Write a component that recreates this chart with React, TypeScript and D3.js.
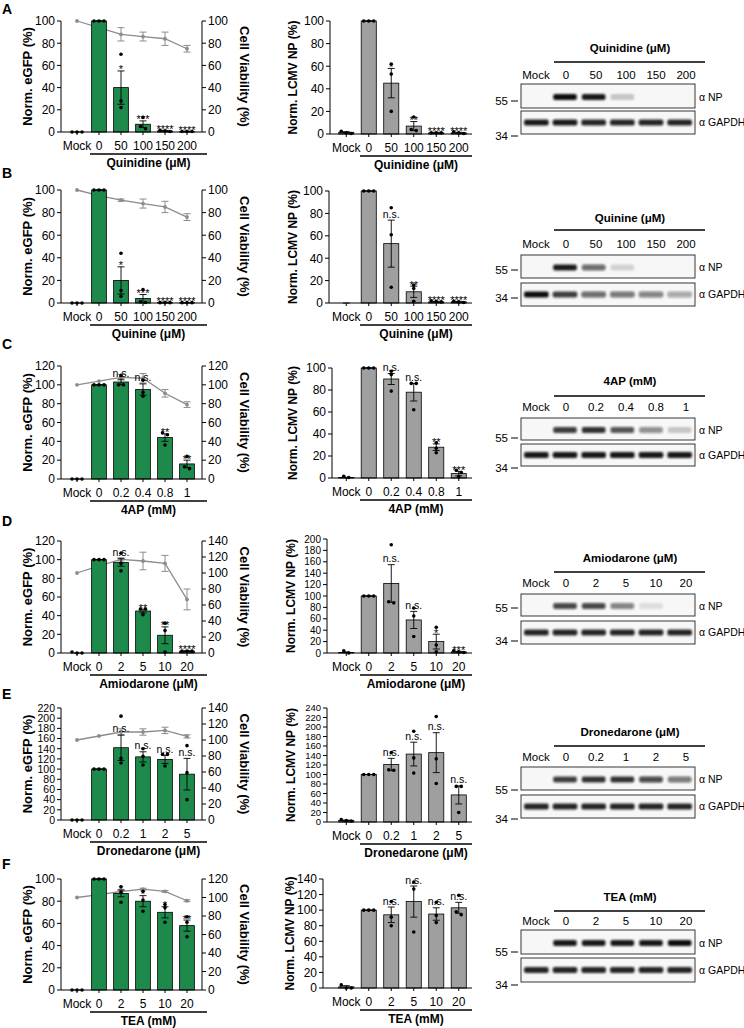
import React from 'react';
import * as d3 from 'd3';

const FONT = "'Liberation Sans', Arimo, 'DejaVu Sans', sans-serif";
const GREEN = '#1d8a4b';
const GREY_BAR = '#9f9f9f';
const VIAB = '#8c8c8c';

// ---------- Row A: Quinidine ----------
const catsA = ['Mock', '0', '50', '100', '150', '200'];
const eGfpMeanA = [0, 100, 40, 7, 1, 0.5];
const eGfpSemA = [0, 0, 15, 3, 0.5, 0.3];
const eGfpPtsA = [[0, 0, 0], [100, 100, 100], [70, 28, 22], [13, 5, 3], [1, 1.5, 0.5], [0.5, 0.5, 0.5]];
const eGfpSigA = ['', '', '*', '***', '****', '****'];
const viabMeanA = [100, 94, 88, 86, 84, 75];
const viabSemA = [0, 0, 6, 4, 6, 3];
const npMeanA = [1.5, 100, 45, 7, 1, 1];
const npSemA = [0.5, 0, 13, 4, 0.5, 0.5];
const npPtsA = [[0.5, 2.5, 1], [100, 100, 100], [62, 53, 20], [15, 3, 4], [1, 1, 1], [1, 2, 0.5]];
const npSigA = ['', '', '*', '**', '****', '****'];
const blotNpA = [0, 1, 0.95, 0.2, 0, 0];
const blotGapdhA = [0.95, 0.95, 0.9, 0.9, 0.9, 0.9];

// ---------- Row B: Quinine ----------
const catsB = ['Mock', '0', '50', '100', '150', '200'];
const eGfpMeanB = [0, 100, 20, 4, 0.5, 0.3];
const eGfpSemB = [0, 0, 12, 3.5, 0.3, 0.2];
const eGfpPtsB = [[0, 0, 0], [100, 100, 100], [44, 11, 6], [12, 1, 0.5], [0.3, 0.3, 0.3], [0.3, 0.3, 0.3]];
const eGfpSigB = ['', '', '*', '***', '****', '****'];
const viabMeanB = [100, 95, 91, 88, 85, 76];
const viabSemB = [0, 0, 1, 4, 5, 3];
const npMeanB = [0, 100, 53, 10, 1, 1];
const npSemB = [0, 0, 21, 5, 0.5, 0.5];
const npPtsB = [[], [100, 100, 100], [85, 61, 14], [16, 13, 1.5], [1, 1.5, 2], [0.5, 1.5, 1]];
const npSigB = ['', '', 'n.s.', '**', '****', '****'];
const blotNpB = [0, 0.95, 0.6, 0.15, 0, 0];
const blotGapdhB = [1, 0.8, 0.6, 0.55, 0.5, 0.35];

// ---------- Row C: 4AP ----------
const catsC = ['Mock', '0', '0.2', '0.4', '0.8', '1'];
const eGfpMeanC = [0, 100, 103, 95, 44, 16];
const eGfpSemC = [0, 0, 3, 6, 4, 4];
const eGfpPtsC = [[0, 0, 0], [100, 100, 100], [110, 100, 100], [105, 92, 88], [49, 47, 36], [24, 13, 11]];
const eGfpSigC = ['', '', 'n.s.', 'n.s.', '**', '**'];
const viabMeanC = [100, 104, 108, 107, 91, 79];
const viabSemC = [0, 0, 3, 5, 4, 3];
const npMeanC = [0.5, 100, 90, 78, 28, 4];
const npSemC = [0, 0, 5, 8, 3, 2];
const npPtsC = [[0.5, 1.5], [100, 100, 100], [97, 94, 79], [86, 86, 62], [32, 27, 23], [7, 5, 1]];
const npSigC = ['', '', 'n.s.', 'n.s.', '**', '***'];
const blotNpC = [0, 0.8, 0.85, 0.7, 0.45, 0.2];
const blotGapdhC = [0.95, 0.95, 0.95, 0.95, 0.95, 0.95];

// ---------- Row D: Amiodarone ----------
const catsD = ['Mock', '0', '2', '5', '10', '20'];
const eGfpMeanD = [0, 100, 97, 45, 19, 2];
const eGfpSemD = [0, 0, 4, 2, 9, 0.5];
const eGfpPtsD = [[0, 1, 0], [100, 100, 100], [107, 96, 88], [47, 47, 41], [32, 24, 1], [2, 2, 2]];
const eGfpSigD = ['', '', 'n.s.', '**', '**', '****'];
const viabMeanD = [100, 109, 117, 115, 112, 67];
const viabSemD = [0, 0, 2, 11, 10, 13];
const npMeanD = [1, 100, 122, 58, 20, 2];
const npSemD = [1, 0, 33, 15, 13, 1];
const npPtsD = [[0, 4], [100, 100, 100], [190, 88, 90], [79, 65, 29], [45, 14, 2], [1, 2, 4]];
const npSigD = ['', '', 'n.s.', 'n.s.', '*', '***'];
const blotNpD = [0, 0.75, 0.75, 0.5, 0.1, 0];
const blotGapdhD = [0.9, 0.9, 0.9, 0.9, 0.9, 0.9];

// ---------- Row E: Dronedarone ----------
const catsE = ['Mock', '0', '0.2', '1', '2', '5'];
const eGfpMeanE = [0, 100, 142, 124, 119, 90];
const eGfpSemE = [0, 0, 25, 10, 8, 31];
const eGfpPtsE = [[0, 0, 0], [100, 100, 100], [204, 121, 112], [140, 125, 108], [129, 129, 106], [146, 93, 40]];
const eGfpSigE = ['', '', 'n.s.', 'n.s.', 'n.s.', 'n.s.'];
const viabMeanE = [100, 105, 110, 110, 112, 104.5];
const viabSemE = [0, 0, 4, 4, 4, 2];
const npMeanE = [3, 100, 121, 143, 146, 57];
const npSemE = [1, 0, 13, 25, 42, 19];
const npPtsE = [[2, 3, 5], [100, 100, 100], [146, 110, 109], [191, 135, 103], [222, 133, 81], [75, 75, 20]];
const npSigE = ['', '', 'n.s.', 'n.s.', 'n.s.', 'n.s.'];
const blotNpE = [0, 0.8, 0.85, 0.85, 0.75, 0.55];
const blotGapdhE = [0.9, 0.9, 0.9, 0.9, 0.9, 0.9];

// ---------- Row F: TEA ----------
const catsF = ['Mock', '0', '2', '5', '10', '20'];
const eGfpMeanF = [0, 100, 87, 80, 70, 58];
const eGfpSemF = [0, 0, 3, 5, 5, 5];
const eGfpPtsF = [[0, 0, 0], [100, 100, 100], [93, 88, 79], [89, 81, 71], [77, 74, 61], [66, 61, 48]];
const eGfpSigF = ['', '', '*', '*', '*', '**'];
const viabMeanF = [100, 103, 106.5, 109, 106.6, 96.5];
const viabSemF = [0, 0, 2, 1, 1, 1];
const npMeanF = [1.5, 100, 94, 111, 95, 103];
const npSemF = [1.5, 0, 10, 20, 8, 7];
const npPtsF = [[4, 0, 0], [100, 100, 100], [111, 91, 80], [136, 127, 72], [110, 93, 84], [119, 98, 94]];
const npSigF = ['', '', 'n.s.', 'n.s.', 'n.s.', 'n.s.'];
const blotNpF = [0, 0.95, 0.95, 0.95, 0.95, 1];
const blotGapdhF = [0.9, 0.9, 0.9, 0.9, 0.9, 0.9];

const groupLabels = ['Quinidine (μM)', 'Quinine (μM)', '4AP (mM)', 'Amiodarone (μM)', 'Dronedarone (μM)', 'TEA (mM)'];
const letters = ['A', 'B', 'C', 'D', 'E', 'F'];

function spreadOffsets(vals: number[], ys: (v: number) => number, gap = 5) {
  const idx = vals.map((_, i) => i).sort((a, b) => ys(vals[a]) - ys(vals[b]));
  const off = new Array(vals.length).fill(0);
  let cluster: number[] = [];
  const flush = () => {
    const n = cluster.length;
    cluster.forEach((id, k) => { off[id] = (k - (n - 1) / 2) * gap; });
    cluster = [];
  };
  let last = -Infinity;
  idx.forEach((id) => {
    const py = ys(vals[id]);
    if (cluster.length && py - last > 3.2) flush();
    cluster.push(id);
    last = py;
  });
  flush();
  return off;
}

function BarPanel(p: any) {
  const { cats, mean, sem, pts, sig, fill, xRange, axisX, rightX, yTop, yZero, yMax, yStep, tickFont, yTitle, yTitleX, group, ul, viab } = p;
  const y = d3.scaleLinear().domain([0, yMax]).range([yZero, yTop]);
  const x = d3.scaleBand<string>().domain(cats).range(xRange).paddingInner(0.33).paddingOuter(0.165);
  const bw = x.bandwidth();
  const cx = (i: number) => (x(cats[i]) as number) + bw / 2;
  const yt = d3.range(0, yMax + 1e-6, yStep);
  const midY = (yTop + yZero) / 2;

  let viabEls: any = null;
  if (viab) {
    const yv = d3.scaleLinear().domain([0, viab.max]).range([yZero, yTop]);
    const line = d3.line<number>().x((_, i) => cx(i)).y((v) => yv(v));
    const vt = d3.range(0, viab.max + 1e-6, viab.step);
    viabEls = (
      <g>
        <line x1={rightX} x2={rightX} y1={yZero} y2={yTop} stroke="#000" strokeWidth={1} />
        {vt.map((t: number) => (
          <g key={t}>
            <line x1={rightX} x2={rightX + 4} y1={yv(t)} y2={yv(t)} stroke="#000" strokeWidth={1} />
            <text x={rightX + 6} y={yv(t)} dy="0.36em" fontSize={viab.font}>{t}</text>
          </g>
        ))}
        <text transform={`translate(${viab.titleX},${midY}) rotate(90)`} textAnchor="middle" dominantBaseline="central" fontSize={13} fontWeight="bold">Cell Viability (%)</text>
        <path d={line(viab.mean) as string} fill="none" stroke={VIAB} strokeWidth={1.3} />
        {viab.mean.map((v: number, i: number) => {
          const s = viab.sem[i];
          return (
            <g key={i}>
              {s > 0 && (
                <g stroke={VIAB} strokeWidth={1}>
                  <line x1={cx(i)} x2={cx(i)} y1={yv(v - s)} y2={yv(v + s)} />
                  <line x1={cx(i) - 3.5} x2={cx(i) + 3.5} y1={yv(v - s)} y2={yv(v - s)} />
                  <line x1={cx(i) - 3.5} x2={cx(i) + 3.5} y1={yv(v + s)} y2={yv(v + s)} />
                </g>
              )}
              <circle cx={cx(i)} cy={yv(v)} r={1.9} fill={VIAB} />
            </g>
          );
        })}
      </g>
    );
  }

  return (
    <g>
      {viabEls}
      {mean.map((m: number, i: number) => (
        <rect key={'b' + i} x={x(cats[i])} y={y(m)} width={bw} height={Math.max(0, yZero - y(m))} fill={fill} stroke="#000" strokeWidth={0.8} />
      ))}
      <line x1={axisX} x2={axisX} y1={yZero} y2={yTop} stroke="#000" strokeWidth={1} />
      {yt.map((t: number) => (
        <g key={'t' + t}>
          <line x1={axisX - 4} x2={axisX} y1={y(t)} y2={y(t)} stroke="#000" strokeWidth={1} />
          <text x={axisX - 6} y={y(t)} dy="0.36em" textAnchor="end" fontSize={tickFont}>{t}</text>
        </g>
      ))}
      <line x1={axisX} x2={rightX} y1={yZero} y2={yZero} stroke="#000" strokeWidth={1} />
      {cats.map((c: string, i: number) => (
        <g key={'x' + i}>
          <line x1={cx(i)} x2={cx(i)} y1={yZero} y2={yZero + 3} stroke="#000" strokeWidth={1} />
          <text x={cx(i)} y={yZero + 18} textAnchor="middle" fontSize={12}>{c}</text>
        </g>
      ))}
      <text transform={`translate(${yTitleX},${midY}) rotate(-90)`} textAnchor="middle" dominantBaseline="central" fontSize={p.titleFont} fontWeight="bold">{yTitle}</text>
      {mean.map((m: number, i: number) => {
        const s = sem[i];
        const c = cx(i);
        const offs = spreadOffsets(pts[i], y);
        const top = y(m + s);
        const label = sig[i];
        const isStar = label.indexOf('*') >= 0;
        return (
          <g key={'e' + i}>
            <g stroke="#000" strokeWidth={0.9}>
              <line x1={c} x2={c} y1={y(Math.max(0, m - s))} y2={y(m + s)} />
              <line x1={c - 3.5} x2={c + 3.5} y1={y(m + s)} y2={y(m + s)} />
              {m - s > 0 && <line x1={c - 3.5} x2={c + 3.5} y1={y(m - s)} y2={y(m - s)} />}
            </g>
            {pts[i].map((v: number, k: number) => (
              <circle key={k} cx={c + offs[k]} cy={y(v)} r={1.8} fill="#000" />
            ))}
            {label && (
              <text x={c} y={isStar ? top + 2.5 : top - 2.5} textAnchor="middle" fontSize={isStar ? 11 : 10.5} fill="#000">{label}</text>
            )}
          </g>
        );
      })}
      <line x1={ul[0]} x2={ul[1]} y1={yZero + 22} y2={yZero + 22} stroke="#000" strokeWidth={1.4} />
      <text x={(ul[0] + ul[1]) / 2} y={yZero + 35} textAnchor="middle" fontSize={12} fontWeight="bold">{group}</text>
    </g>
  );
}

function Blot(p: any) {
  const { lay, cats, title, np, gapdh } = p;
  const boxX0 = 521, boxX1 = 695;
  const lx = d3.scaleBand<string>().domain(cats).range([521, 701]);
  const bx = d3.scaleBand<string>().domain(cats).range([boxX0 + 1, boxX1 - 1]);
  const npC = (lay.np[0] + lay.np[1]) / 2 + 1;
  const gpC = (lay.gp[0] + lay.gp[1]) / 2;
  return (
    <g>
      <text x={630} y={lay.titleY} textAnchor="middle" fontSize={11.5} fontWeight="bold">{title}</text>
      <line x1={554} x2={705} y1={lay.lineY} y2={lay.lineY} stroke="#000" strokeWidth={1.4} />
      {cats.map((c: string) => (
        <text key={c} x={(lx(c) as number) + lx.bandwidth() / 2} y={lay.laneY} textAnchor="middle" fontSize={11.5}>{c}</text>
      ))}
      <rect x={boxX0} y={lay.np[0]} width={boxX1 - boxX0} height={lay.np[1] - lay.np[0]} fill="#f7f7f7" stroke="#222" strokeWidth={0.9} />
      <rect x={boxX0} y={lay.gp[0]} width={boxX1 - boxX0} height={lay.gp[1] - lay.gp[0]} fill="#f7f7f7" stroke="#222" strokeWidth={0.9} />
      <g filter="url(#blur)">
        {np.map((v: number, i: number) => v > 0 && (
          <rect key={'n' + i} x={(bx(cats[i]) as number) + 2.5} y={npC - 3} width={bx.bandwidth() - 5} height={6} rx={2} fill="#111" opacity={v} />
        ))}
        {gapdh.map((v: number, i: number) => v > 0 && (
          <rect key={'g' + i} x={(bx(cats[i]) as number) + 2} y={gpC - 3} width={bx.bandwidth() - 4} height={6} rx={2} fill="#111" opacity={v} />
        ))}
      </g>
      <text x={699} y={npC} dy="0.36em" fontSize={10.5}>α NP</text>
      <text x={699} y={gpC} dy="0.36em" fontSize={10.5}>α GAPDH</text>
      <text x={508} y={lay.m55} dy="0.36em" textAnchor="end" fontSize={11.5}>55</text>
      <line x1={511} x2={518} y1={lay.m55} y2={lay.m55} stroke="#000" strokeWidth={1} />
      <text x={508} y={lay.m34} dy="0.36em" textAnchor="end" fontSize={11.5}>34</text>
      <line x1={511} x2={518} y1={lay.m34} y2={lay.m34} stroke="#000" strokeWidth={1} />
    </g>
  );
}

const rows = [
  { cats: catsA, e: [eGfpMeanA, eGfpSemA, eGfpPtsA, eGfpSigA], v: [viabMeanA, viabSemA], n: [npMeanA, npSemA, npPtsA, npSigA], b: [blotNpA, blotGapdhA] },
  { cats: catsB, e: [eGfpMeanB, eGfpSemB, eGfpPtsB, eGfpSigB], v: [viabMeanB, viabSemB], n: [npMeanB, npSemB, npPtsB, npSigB], b: [blotNpB, blotGapdhB] },
  { cats: catsC, e: [eGfpMeanC, eGfpSemC, eGfpPtsC, eGfpSigC], v: [viabMeanC, viabSemC], n: [npMeanC, npSemC, npPtsC, npSigC], b: [blotNpC, blotGapdhC] },
  { cats: catsD, e: [eGfpMeanD, eGfpSemD, eGfpPtsD, eGfpSigD], v: [viabMeanD, viabSemD], n: [npMeanD, npSemD, npPtsD, npSigD], b: [blotNpD, blotGapdhD] },
  { cats: catsE, e: [eGfpMeanE, eGfpSemE, eGfpPtsE, eGfpSigE], v: [viabMeanE, viabSemE], n: [npMeanE, npSemE, npPtsE, npSigE], b: [blotNpE, blotGapdhE] },
  { cats: catsF, e: [eGfpMeanF, eGfpSemF, eGfpPtsF, eGfpSigF], v: [viabMeanF, viabSemF], n: [npMeanF, npSemF, npPtsF, npSigF], b: [blotNpF, blotGapdhF] },
];

// layout (positions only)
const layout = [
  { letterY: 14, L: { yTop: 21, yZero: 132, max: 100, step: 20, font: 12, vmax: 100, vstep: 20 }, M: { axisX: 330, yTop: 21, yZero: 134, max: 100, step: 20, font: 12, titleX: 293 },
    B: { titleY: 52, lineY: 62, laneY: 79, np: [84, 108], gp: [111, 134], m55: 101, m34: 136 } },
  { letterY: 178, L: { yTop: 190, yZero: 303, max: 100, step: 20, font: 12, vmax: 100, vstep: 20 }, M: { axisX: 329, yTop: 191, yZero: 303, max: 100, step: 20, font: 12, titleX: 293 },
    B: { titleY: 222, lineY: 230, laneY: 248, np: [255, 278], gp: [283, 306], m55: 270, m34: 298 } },
  { letterY: 349, L: { yTop: 366, yZero: 479, max: 120, step: 20, font: 12, vmax: 120, vstep: 20 }, M: { axisX: 332, yTop: 368, yZero: 478, max: 100, step: 20, font: 12, titleX: 293 },
    B: { titleY: 385, lineY: 396, laneY: 411, np: [418, 440], gp: [444, 466], m55: 438, m34: 468 } },
  { letterY: 526, L: { yTop: 541, yZero: 653, max: 120, step: 20, font: 12, vmax: 140, vstep: 20 }, M: { axisX: 327, yTop: 539, yZero: 653, max: 200, step: 20, font: 10, titleX: 291 },
    B: { titleY: 562, lineY: 572, laneY: 587, np: [594, 616], gp: [621, 644], m55: 608, m34: 641 } },
  { letterY: 699, L: { yTop: 708, yZero: 820, max: 220, step: 20, font: 10.5, vmax: 140, vstep: 20 }, M: { axisX: 327, yTop: 708, yZero: 822, max: 240, step: 20, font: 9.5, titleX: 291 },
    B: { titleY: 736, lineY: 746, laneY: 761, np: [767, 790], gp: [795, 818], m55: 790, m34: 819 } },
  { letterY: 869, L: { yTop: 879, yZero: 990, max: 100, step: 20, font: 12, vmax: 120, vstep: 20 }, M: { axisX: 323, yTop: 879, yZero: 988, max: 140, step: 20, font: 12, titleX: 290 },
    B: { titleY: 901, lineY: 911, laneY: 925, np: [930, 954], gp: [958, 982], m55: 952, m34: 985 } },
];

export default function App() {
  return (
    <svg width={744} height={1028} style={{ position: 'absolute', left: 0, top: 0, background: '#fff' }} fontFamily={FONT}>
      <defs>
        <filter id="blur" x="-20%" y="-50%" width="140%" height="200%">
          <feGaussianBlur stdDeviation="1.1" />
        </filter>
      </defs>
      <rect x={0} y={0} width={744} height={1028} fill="#fff" />
      {rows.map((r, ri) => {
        const lay = layout[ri];
        return (
          <g key={ri}>
            <text x={2} y={lay.letterY} fontSize={14} fontWeight="bold">{letters[ri]}</text>
            <BarPanel
              cats={r.cats} mean={r.e[0]} sem={r.e[1]} pts={r.e[2]} sig={r.e[3]} fill={GREEN}
              xRange={[66, 198]} axisX={61} rightX={202}
              yTop={lay.L.yTop} yZero={lay.L.yZero} yMax={lay.L.max} yStep={lay.L.step} tickFont={lay.L.font}
              yTitle="Norm. eGFP (%)" yTitleX={27} titleFont={13} group={groupLabels[ri]} ul={[90, 207]}
              viab={{ mean: r.v[0], sem: r.v[1], max: lay.L.vmax, step: lay.L.vstep, font: 12, titleX: 244 }}
            />
            <BarPanel
              cats={r.cats} mean={r.n[0]} sem={r.n[1]} pts={r.n[2]} sig={r.n[3]} fill={GREY_BAR}
              xRange={[335, 470]} axisX={lay.M.axisX} rightX={472}
              yTop={lay.M.yTop} yZero={lay.M.yZero} yMax={lay.M.max} yStep={lay.M.step} tickFont={lay.M.font}
              yTitle="Norm. LCMV NP (%)" yTitleX={lay.M.titleX} titleFont={12} group={groupLabels[ri]} ul={[360, 472]}
            />
            <Blot lay={lay.B} cats={r.cats} title={groupLabels[ri]} np={r.b[0]} gapdh={r.b[1]} />
          </g>
        );
      })}
    </svg>
  );
}
